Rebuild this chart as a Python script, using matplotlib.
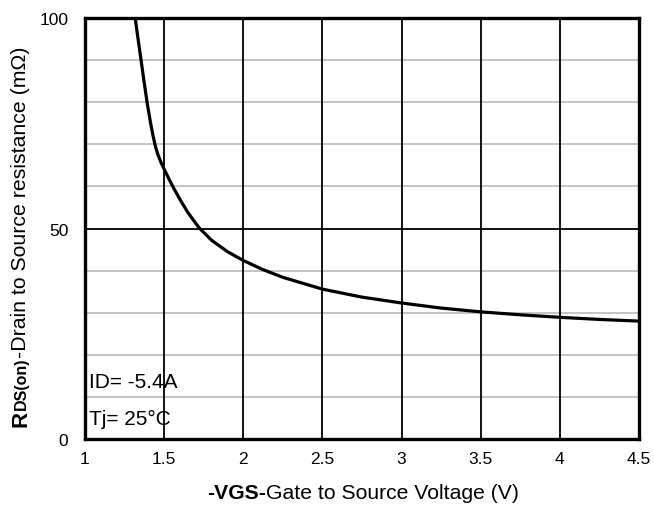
import matplotlib
matplotlib.use("Agg")
import matplotlib.pyplot as plt

plt.rcParams['font.family'] = ['Liberation Sans', 'DejaVu Sans']

# Data
vgs = [1.317, 1.335, 1.353, 1.372, 1.392, 1.415, 1.43, 1.445, 1.46, 1.48, 1.5, 1.53,
       1.56, 1.6, 1.65, 1.7, 1.725, 1.8, 1.9, 2.0, 2.12, 2.25, 2.5, 2.75, 3.0, 3.25,
       3.5, 3.75, 4.0, 4.25, 4.5]
rds = [100, 95.1, 90.3, 85.2, 80, 74.9, 72.0, 69.5, 67.6, 65.7, 64.1, 61.8,
       59.6, 56.9, 53.8, 51.2, 50.0, 47.2, 44.5, 42.4, 40.3, 38.4, 35.6, 33.7, 32.3, 31.1,
       30.2, 29.5, 28.9, 28.4, 28.0]
xticks = [1, 1.5, 2, 2.5, 3, 3.5, 4, 4.5]
xtick_labels = ['1', '1.5', '2', '2.5', '3', '3.5', '4', '4.5']
yticks = [0, 50, 100]
ytick_labels = ['0', '50', '100']
minor_y = [10, 20, 30, 40, 60, 70, 80, 90]
notes = ['ID= -5.4A', 'Tj= 25°C']

W, H = 654, 506
fig = plt.figure(figsize=(W / 100, H / 100), dpi=100)
ax = fig.add_axes([85 / W, 1 - 440 / H, (639 - 85) / W, (440 - 19) / H])

ax.set_xlim(1, 4.5)
ax.set_ylim(0, 100)

# grid
for y in minor_y:
    ax.axhline(y, color='#c4c4c4', lw=1.4, zorder=1)
ax.axhline(50, color='black', lw=1.3, zorder=2)
for x in xticks[1:-1]:
    ax.axvline(x, color='black', lw=1.3, zorder=2)

ax.plot(vgs, rds, color='black', lw=2.3, zorder=3, solid_joinstyle='round')

ax.set_xticks(xticks)
ax.set_xticklabels(xtick_labels)
ax.set_yticks(yticks)
ax.set_yticklabels(ytick_labels)
ax.tick_params(axis='both', length=0, labelsize=12.5, colors='black')
ax.tick_params(axis='x', pad=9)
ax.tick_params(axis='y', pad=12)
for s in ax.spines.values():
    s.set_linewidth(2.4)
    s.set_color('black')
    s.set_zorder(5)

ax.text(0.007, (440 - 388) / 421, notes[0], transform=ax.transAxes,
        fontsize=15, ha='left', va='baseline', zorder=6)
ax.text(0.007, (440 - 425.5) / 421, notes[1], transform=ax.transAxes,
        fontsize=15, ha='left', va='baseline', zorder=6)

# axis labels assembled from parts
fig.canvas.draw()
r = fig.canvas.get_renderer()

# x label
xparts = [('-VGS-', dict(weight='bold', fontsize=15.2)),
          ('Gate to Source Voltage (V)', dict(fontsize=15.2))]
objs = []
for txt, kw in xparts:
    t = fig.text(0, 0, txt, ha='left', va='baseline', **kw)
    objs.append(t)
widths = [t.get_window_extent(r).width for t in objs]
total = sum(widths)
cx = 363.5
start = cx - total / 2
base_y = H - 499
for t, w in zip(objs, widths):
    t.set_position((start / W, base_y / H))
    start += w

# y label (rotated)
yparts = [('R', dict(weight='bold', fontsize=16)),
          ('DS(on)', dict(weight='bold', fontsize=11.5)),
          ('-Drain to Source resistance (mΩ)', dict(fontsize=15.3))]
objs = []
for txt, kw in yparts:
    t = fig.text(0, 0, txt, ha='left', va='baseline', rotation=90,
                 rotation_mode='anchor', **kw)
    objs.append(t)
lens = [t.get_window_extent(r).height for t in objs]
total = sum(lens)
cy = H - 236.5
start = cy - total / 2
base_x = 26
for t, L in zip(objs, lens):
    t.set_position((base_x / W, start / H))
    start += L

fig.savefig('out.png', dpi=100)
